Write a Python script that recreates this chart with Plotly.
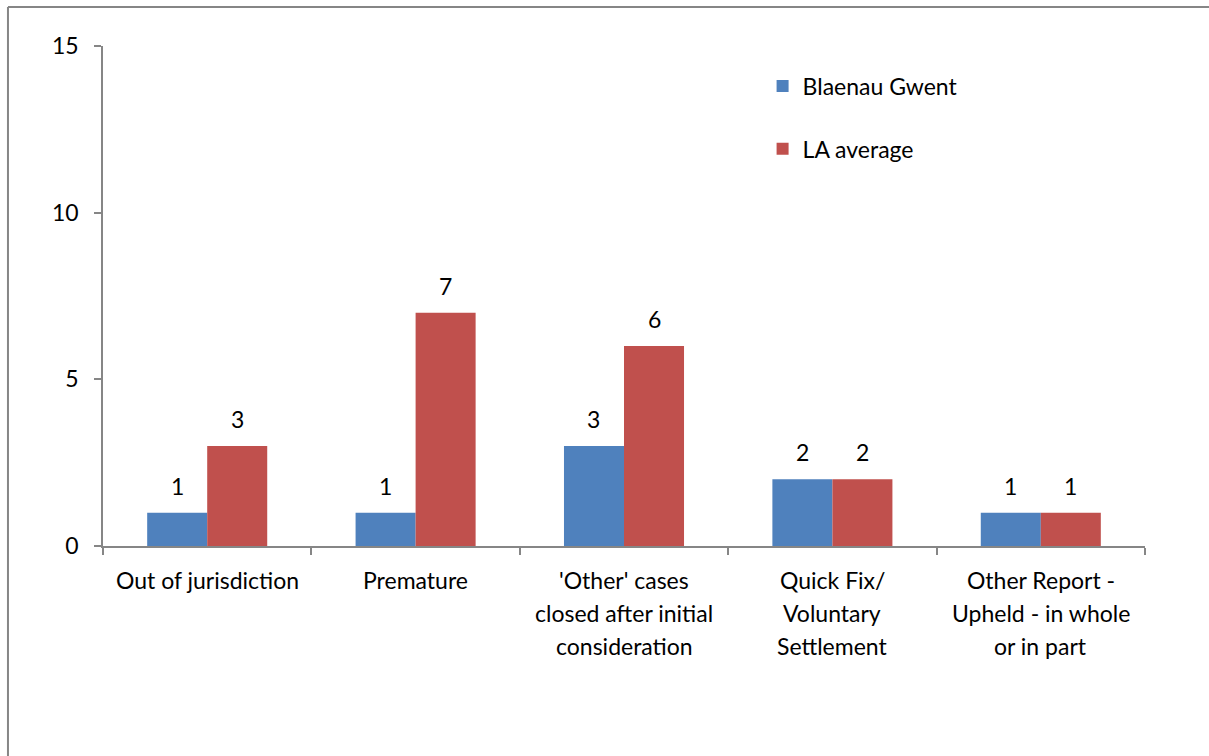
import plotly.graph_objects as go

categories = [
    "Out of jurisdiction",
    "Premature",
    "'Other' cases<br>closed after initial<br>consideration",
    "Quick Fix/<br>Voluntary<br>Settlement",
    "Other Report -<br>Upheld - in whole<br>or in part",
]
blaenau_gwent = [1, 1, 3, 2, 1]
la_average = [3, 7, 6, 2, 1]
y_ticks = [0, 5, 10, 15]

BLUE = "#4F81BD"
RED = "#C0504D"
AXIS = "#868686"
FONT = "Lato"
FS = 23
BARGAP = 0.424

fig = go.Figure()
fig.add_trace(go.Bar(name="Blaenau Gwent", x=categories, y=blaenau_gwent,
                     marker=dict(color=BLUE, line=dict(width=0)), legendgroup="a"))
fig.add_trace(go.Bar(name="LA average", x=categories, y=la_average,
                     marker=dict(color=RED, line=dict(width=0)), legendgroup="b"))

# value labels above each bar
bar_w = (1 - BARGAP) / 2
for series, off in ((blaenau_gwent, -bar_w / 2), (la_average, bar_w / 2)):
    for i, v in enumerate(series):
        fig.add_annotation(x=i + off, y=v, xref="x", yref="y", text=str(v),
                           showarrow=False, yanchor="middle", yshift=27,
                           font=dict(family=FONT, size=FS, color="black"))

# category labels, one line per annotation for Excel-like line spacing
for i, cat in enumerate(categories):
    for j, line in enumerate(cat.split("<br>")):
        fig.add_annotation(x=i, y=0, xref="x", yref="y", text=line, showarrow=False,
                           yanchor="middle", yshift=-34 - 33 * j,
                           font=dict(family=FONT, size=FS, color="black"))

# outer chart border (top and left edges)
fig.add_shape(type="line", xref="paper", yref="paper", x0=-0.0912, x1=1.2,
              y0=1.078, y1=1.078, line=dict(color=AXIS, width=2))
fig.add_shape(type="line", xref="paper", yref="paper", x0=-0.0912, x1=-0.0912,
              y0=1.078, y1=-0.5, line=dict(color=AXIS, width=2))

fig.update_layout(
    width=1209, height=756,
    margin=dict(l=103, r=64, t=46, b=210),
    paper_bgcolor="white", plot_bgcolor="white",
    barmode="group", bargap=BARGAP, bargroupgap=0,
    font=dict(family=FONT, size=FS, color="black"),
    showlegend=True,
    legend=dict(x=0.633, y=0.963, xanchor="left", yanchor="top",
                tracegroupgap=30, font=dict(family=FONT, size=FS, color="black"),
                bgcolor="rgba(0,0,0,0)", itemwidth=30),
    xaxis=dict(type="category", range=[-0.5, len(categories) - 0.5],
               showticklabels=False, showline=True, linecolor=AXIS, linewidth=1.5,
               ticks="outside", tickson="boundaries", ticklen=7, tickcolor=AXIS, tickwidth=1.5,
               showgrid=False, zeroline=False, fixedrange=True),
    yaxis=dict(range=[0, 15], tickvals=y_ticks, showline=True, linecolor=AXIS, linewidth=1.5,
               ticks="outside", ticklen=7, tickcolor=AXIS, tickwidth=1.5,
               showgrid=False, zeroline=False, ticklabelstandoff=11,
               tickfont=dict(family=FONT, size=FS, color="black")),
)

fig.write_html("out.html")
